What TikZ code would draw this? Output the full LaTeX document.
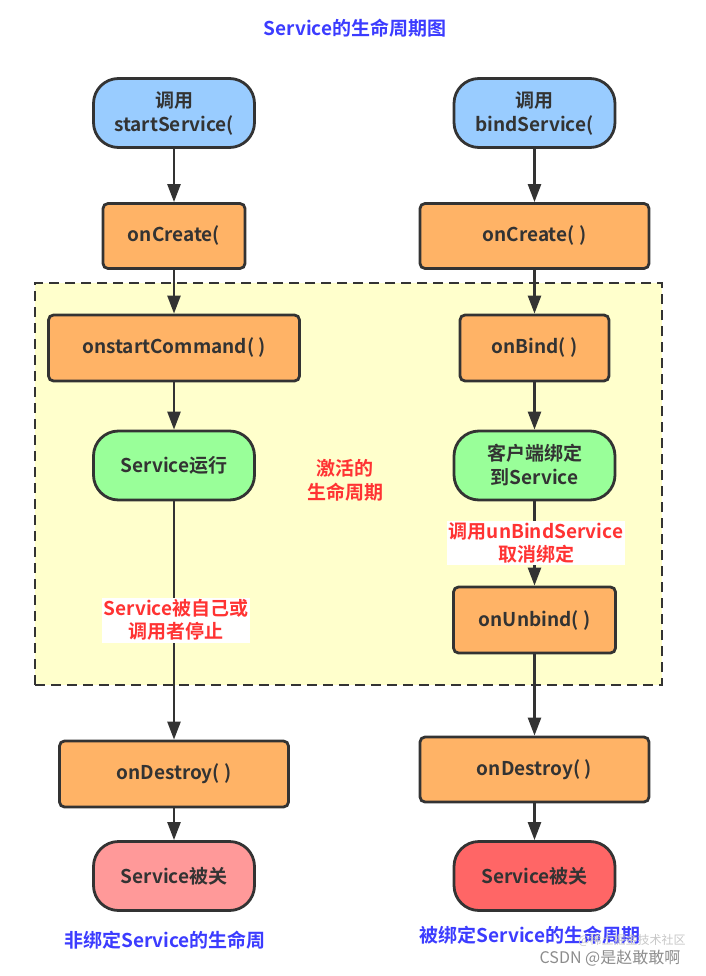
\documentclass[tikz,border=0pt]{standalone}
\usepackage{fontspec}
\setmainfont{Noto Sans CJK SC}[BoldFont={Noto Sans CJK SC Bold}]
\usetikzlibrary{arrows.meta}
\definecolor{cblue}{HTML}{99CCFF}
\definecolor{corange}{HTML}{FFB366}
\definecolor{cgreen}{HTML}{99FF99}
\definecolor{cpink}{HTML}{FF9999}
\definecolor{cred}{HTML}{FF6666}
\definecolor{cyellow}{HTML}{FFFFCC}
\definecolor{cline}{HTML}{333333}
\definecolor{tblue}{HTML}{3C3CFF}
\definecolor{tred}{HTML}{FF3333}
\tikzset{
  base/.style={draw=cline, line width=2.8pt, align=center, font=\fontsize{19}{24}\selectfont\bfseries, text=cline, inner sep=0pt},
  stad/.style={base, rounded corners=25pt, minimum width=161pt, minimum height=69pt},
  rectbox/.style={base, rounded corners=5pt},
  arr/.style={draw=cline, line width=2.5pt, -{Triangle[length=18pt,width=13pt]}},
  redlbl/.style={fill=white, text=tred, align=center, font=\fontsize{19}{23}\selectfont\bfseries, inner sep=2pt},
  bluelbl/.style={text=tblue, align=center, font=\fontsize{19}{24}\selectfont\bfseries, inner sep=0pt},
}
\begin{document}
\begin{tikzpicture}[x=1pt,y=-1pt]
\useasboundingbox (0,0) rectangle (705,976);
% active region
\node[draw=cline, line width=2.5pt, dash pattern=on 10pt off 6pt, fill=cyellow, minimum width=627pt, minimum height=402pt, inner sep=0pt] (active) at (348.5,484) {};
\node[bluelbl] (title) at (355,28) {Service的生命周期图};
% left column
\node[stad, fill=cblue] (startL) at (174,113) {调用\\startService(};
\node[rectbox, fill=corange, minimum width=142pt, minimum height=65pt] (createL) at (174,236) {onCreate(};
\node[rectbox, fill=corange, minimum width=251pt, minimum height=66pt] (cmd) at (174,348) {onstartCommand( )};
\node[stad, fill=cgreen] (run) at (174,465.5) {Service运行};
\node[rectbox, fill=corange, minimum width=229pt, minimum height=66pt] (destroyL) at (174,774) {onDestroy( )};
\node[stad, fill=cpink] (closedL) at (174,876) {Service被关};
% right column
\node[stad, fill=cblue] (startR) at (534.5,113) {调用\\bindService(};
\node[rectbox, fill=corange, minimum width=229pt, minimum height=65pt] (createR) at (534.5,236) {onCreate( )};
\node[rectbox, fill=corange, minimum width=149pt, minimum height=66pt] (bind) at (534.5,348) {onBind( )};
\node[stad, fill=cgreen] (client) at (534.5,465.5) {客户端绑定\\到Service};
\node[rectbox, fill=corange, minimum width=162pt, minimum height=66pt] (unbind) at (534.5,620) {onUnbind( )};
\node[rectbox, fill=corange, minimum width=229pt, minimum height=65pt] (destroyR) at (534.5,769.5) {onDestroy( )};
\node[stad, fill=cred] (closedR) at (534.5,876) {Service被关};
% connectors
\draw[arr] (startL) -- (createL);
\draw[arr] (createL) -- (cmd);
\draw[arr] (cmd) -- (run);
\draw[arr] (run) -- (destroyL);
\draw[arr] (destroyL) -- (closedL);
\draw[arr] (startR) -- (createR);
\draw[arr] (createR) -- (bind);
\draw[arr] (bind) -- (client);
\draw[arr] (client) -- (unbind);
\draw[arr] (unbind) -- (destroyR);
\draw[arr] (destroyR) -- (closedR);
% labels
\node[redlbl] (stopL) at (176,620) {Service被自己或\\调用者停止};
\node[redlbl] (unbindL) at (536,543) {调用unBindService\\取消绑定};
\node[bluelbl, text=tred] (activeL) at (345,480) {激活的\\生命周期};
\node[bluelbl] (capL) at (165,940) {非绑定Service的生命周};
\node[bluelbl] (capR) at (530,935) {被绑定Service的生命周期};
\node[text=black!22, font=\fontsize{12}{14}\selectfont, inner sep=0pt] (wm1) at (632,940) {@稀土掘金技术社区};
\node[text=black!45, font=\fontsize{16}{18}\selectfont, inner sep=0pt] (wm2) at (610,958) {CSDN @是赵敢敢啊};
\end{tikzpicture}
\end{document}
